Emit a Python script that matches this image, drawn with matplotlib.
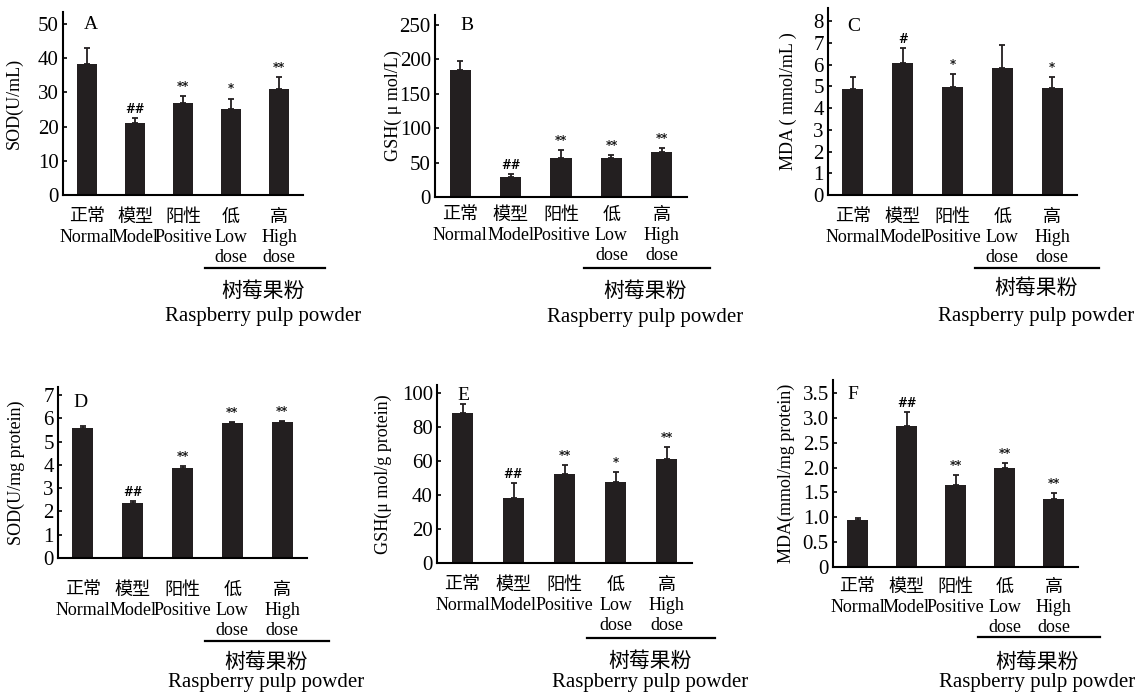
import matplotlib
matplotlib.use("Agg")
import matplotlib.pyplot as plt
import matplotlib.transforms as mtransforms

plt.rcParams['font.family'] = ['Liberation Serif', 'Noto Sans CJK SC', 'DejaVu Sans']

# ---------------- data ----------------
categories = ["正常\nNormal", "模型\nModel", "阳性\nPositive", "低\nLow\ndose", "高\nHigh\ndose"]

sod_serum = [38.3, 21.0, 27.0, 25.2, 31.0]
sod_serum_err = [4.8, 1.5, 2.0, 3.0, 3.5]
sod_serum_sig = ["", "##", "**", "*", "**"]

gsh_serum = [184, 28.5, 57, 57, 66]
gsh_serum_err = [14, 5, 11, 3.5, 5]
gsh_serum_sig = ["", "##", "**", "**", "**"]

mda_serum = [4.86, 6.05, 4.98, 5.82, 4.90]
mda_serum_err = [0.58, 0.70, 0.58, 1.10, 0.52]
mda_serum_sig = ["", "#", "*", "", "*"]

sod_tissue = [5.6, 2.38, 3.85, 5.8, 5.82]
sod_tissue_err = [0.05, 0.07, 0.10, 0.05, 0.04]
sod_tissue_sig = ["", "##", "**", "**", "**"]

gsh_tissue = [88.5, 38.2, 52.5, 47.6, 61.2]
gsh_tissue_err = [5.0, 9.0, 5.0, 5.7, 6.8]
gsh_tissue_sig = ["", "##", "**", "*", "**"]

mda_tissue = [0.95, 2.83, 1.64, 2.0, 1.37]
mda_tissue_err = [0.04, 0.28, 0.20, 0.09, 0.11]
mda_tissue_sig = ["", "##", "**", "**", "**"]

group_cn = "树莓果粉"
group_en = "Raspberry pulp powder"

# ---------------- layout (pixels of 1135x695 canvas) ----------------
W, H = 1135, 695
fig = plt.figure(figsize=(W / 100, H / 100), dpi=100)

panels = [
    dict(letter="A", v=sod_serum, e=sod_serum_err, s=sod_serum_sig, ylabel="SOD(U/mL)",
         ylim=53.5, ticks=[0, 10, 20, 30, 40, 50], tl=None,
         box=(63, 303, 195, 12), lp=(0.085, 0.93), ylx=-0.167, pad=14, ul=73, cn=97, en=121),
    dict(letter="B", v=gsh_serum, e=gsh_serum_err, s=gsh_serum_sig, ylabel="GSH( μ mol/L)",
         ylim=264, ticks=[0, 50, 100, 150, 200, 250], tl=None,
         box=(435, 687, 197, 15), lp=(0.1, 0.945), ylx=-0.13, pad=10, ul=71, cn=95, en=120),
    dict(letter="C", v=mda_serum, e=mda_serum_err, s=mda_serum_sig, ylabel="MDA ( mmol/mL )",
         ylim=8.6, ticks=[0, 1, 2, 3, 4, 5, 6, 7, 8], tl=None,
         box=(828, 1077, 195, 8), lp=(0.076, 0.9), ylx=-0.125, pad=14, ul=73, cn=94, en=122),
    dict(letter="D", v=sod_tissue, e=sod_tissue_err, s=sod_tissue_sig, ylabel="SOD(U/mg protein)",
         ylim=7.34, ticks=[0, 1, 2, 3, 4, 5, 6, 7], tl=None,
         box=(58, 307, 558, 387), lp=(0.06, 0.91), ylx=-0.133, pad=24, ul=83, cn=105, en=124),
    dict(letter="E", v=gsh_tissue, e=gsh_tissue_err, s=gsh_tissue_sig, ylabel="GSH(μ mol/g protein)",
         ylim=104.7, ticks=[0, 20, 40, 60, 80, 100], tl=None,
         box=(437, 692, 563, 385), lp=(0.08, 0.94), ylx=-0.176, pad=14, ul=75, cn=99, en=120),
    dict(letter="F", v=mda_tissue, e=mda_tissue_err, s=mda_tissue_sig, ylabel="MDA(mmol/mg protein)",
         ylim=3.76, ticks=[0, 0.5, 1.0, 1.5, 2.0, 2.5, 3.0, 3.5],
         tl=["0", "0.5", "1.0", "1.5", "2.0", "2.5", "3.0", "3.5"],
         box=(833, 1078, 567, 380), lp=(0.057, 0.925), ylx=-0.155, pad=12, ul=70, cn=96, en=116),
]

bar_color = "#231f20"
px2pt = 72 / 100

for p in panels:
    l, r, b, t = p["box"]
    ax = fig.add_axes([l / W, 1 - b / H, (r - l) / W, (b - t) / H])
    x = list(range(len(categories)))
    ax.bar(x, p["v"], width=0.42, color=bar_color, zorder=2)
    ax.errorbar(x, p["v"], yerr=[[0] * len(x), p["e"]], fmt="none", ecolor=bar_color,
                elinewidth=1.3, capsize=2, capthick=1.3, zorder=3)
    for xi, vi, ei, si in zip(x, p["v"], p["e"], p["s"]):
        if si:
            ax.annotate(si, xy=(xi, vi + ei), xytext=(0, 1.5), textcoords="offset points",
                        ha="center", va="bottom", fontsize=8.5, fontweight="bold",
                        family=["DejaVu Serif"])
    ax.set_xlim(-0.5, 4.5)
    ax.set_ylim(0, p["ylim"])
    ax.set_yticks(p["ticks"])
    if p["tl"]:
        ax.set_yticklabels(p["tl"])
    ax.set_xticks(x)
    ax.set_xticklabels(categories, fontsize=13, linespacing=1.24)
    ax.tick_params(axis="y", direction="in", length=3, width=1.2, labelsize=15, pad=3)
    ax.tick_params(axis="x", length=0, pad=p["pad"] * px2pt)
    for sp in ["top", "right"]:
        ax.spines[sp].set_visible(False)
    for sp in ["left", "bottom"]:
        ax.spines[sp].set_linewidth(1.5)
    ax.set_ylabel(p["ylabel"], fontsize=13)
    ax.yaxis.set_label_coords(p["ylx"], 0.5)
    ax.text(p["lp"][0], p["lp"][1], p["letter"], transform=ax.transAxes,
            fontsize=14, va="center", ha="left")

    # group underline and label under the two dose bars
    base = mtransforms.blended_transform_factory(ax.transData, ax.transAxes)
    ul_tr = mtransforms.offset_copy(base, fig=fig, x=0, y=-p["ul"] * px2pt, units="points")
    ax.plot([2.45, 4.95], [0, 0], transform=ul_tr, color="black", lw=1.6, clip_on=False)
    ax.annotate(group_cn, xy=(3.67, 0), xycoords=("data", "axes fraction"),
                xytext=(0, -p["cn"] * px2pt), textcoords="offset points",
                ha="center", va="center", fontsize=15, annotation_clip=False)
    ax.annotate(group_en, xy=(3.67, 0), xycoords=("data", "axes fraction"),
                xytext=(0, -p["en"] * px2pt), textcoords="offset points",
                ha="center", va="center", fontsize=15, annotation_clip=False)

fig.savefig("out.png", dpi=100)
